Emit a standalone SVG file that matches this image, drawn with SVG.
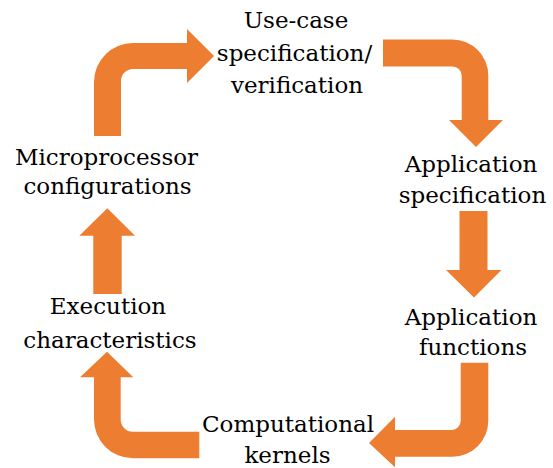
<svg xmlns="http://www.w3.org/2000/svg" width="553" height="468" viewBox="0 0 553 468">
<style>
.arr{fill:#ED7D31;stroke:none}
.lbl{font-family:"DejaVu Serif","Liberation Serif",serif;font-size:23px;fill:#000;text-anchor:middle}
</style>
<rect width="553" height="468" fill="#fff"/>
<g id="connectors">
<path class="arr" d="M94,136 V82 A39,39 0 0 1 133,43 H187 V29 L214,56 L187,83 V69 H133 A12,12 0 0 0 121,81 V136 Z"/>
<path class="arr" d="M383,39.5 H452.3 A36,36 0 0 1 488.3,75.5 V120 H503 L476,147 L449,120 H461.7 V75.5 A9,9 0 0 0 452.7,66.5 H383 Z"/>
<path class="arr" d="M459.5,211 H487.5 V270 H501.5 L474,297.5 L446,270 H459.5 Z"/>
<path class="arr" d="M460.7,362.7 H488.3 V420.7 A36,36 0 0 1 452.3,456.7 H395 V467.3 L369,443 L395,416.7 V430 H451.7 A9,9 0 0 0 460.7,421 Z"/>
<path class="arr" d="M199.3,458.3 H133 A39,39 0 0 1 94,419.3 V377.3 H80 L107,351.7 L133.3,377.3 H120.7 V419.7 A12,12 0 0 0 132.7,431.7 H199.3 Z"/>
<path class="arr" d="M93.3,294 V235.7 H79.3 L107.3,208.3 L135,235.7 H121.7 V294 Z"/>
</g>
<g id="usecase">
<text class="lbl" x="296" y="28.3">Use-case</text>
<text class="lbl" x="294.5" y="61">specification/</text>
<text class="lbl" x="297" y="93">verification</text>
</g>
<g id="appspec">
<text class="lbl" x="471" y="171.7">Application</text>
<text class="lbl" x="472.5" y="203">specification</text>
</g>
<g id="appfunc">
<text class="lbl" x="471" y="325">Application</text>
<text class="lbl" x="473" y="355">functions</text>
</g>
<g id="kernels">
<text class="lbl" x="288" y="431.7">Computational</text>
<text class="lbl" x="287.5" y="463">kernels</text>
</g>
<g id="exec">
<text class="lbl" x="108" y="314.3">Execution</text>
<text class="lbl" x="110" y="348">characteristics</text>
</g>
<g id="micro">
<text class="lbl" x="106.5" y="165">Microprocessor</text>
<text class="lbl" x="107.5" y="194">configurations</text>
</g>
</svg>
